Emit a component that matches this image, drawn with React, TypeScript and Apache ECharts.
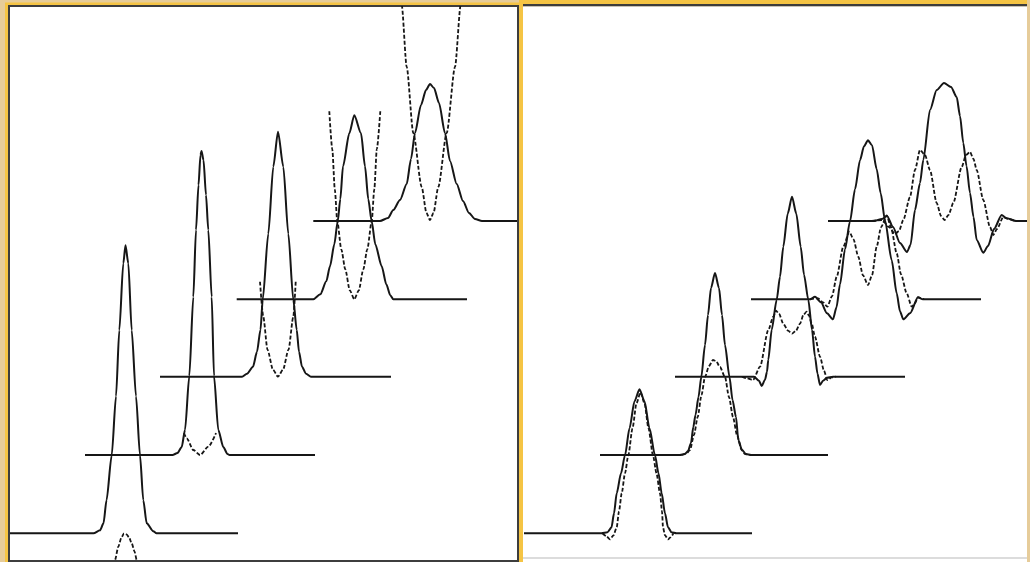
import React, { useEffect, useRef } from "react";
import * as echarts from "echarts";

type Pt = [number, number];

// ---------- Left panel: five stacked packets (solid) + their approximations (dashed)
const leftCenters = [115.5, 191.5, 268, 344.3, 420];
const leftBaselines = [26.7, 105, 183.3, 260.7, 339];
const leftStarts = [0, 75, 150, 226.7, 303.3];
const leftEnds = [228, 305, 381, 457, 507];

const leftSolid0: Pt[] = [[-32, 0], [-25.5, 3], [-22, 10], [-19, 33], [-13.8, 78], [-9.5, 137], [-6.2, 203], [-2.2, 270], [0, 288], [2.8, 270], [6.2, 203], [10.5, 137], [14.5, 78], [17.8, 33], [21.2, 10], [27.8, 2], [31, 0]];
const leftSolid1: Pt[] = [[-29, 0], [-24, 2], [-19.8, 8], [-16.5, 25], [-12.2, 79], [-8.2, 158], [-5.5, 225], [-3, 270], [-1, 300], [0, 304], [2, 295], [4.5, 260], [6.8, 225], [10.2, 158], [12.5, 79], [16.8, 25], [21.8, 8], [26, 1], [28, 0]];
const leftSolid2: Pt[] = [[-36, 0], [-31, 3], [-25, 10], [-21, 25], [-17.5, 47], [-15.3, 77], [-9.7, 143], [-4.7, 210], [0, 245], [5.3, 210], [10.3, 143], [15.3, 77], [18.7, 47], [21, 25], [24, 10], [28, 3], [33, 0]];
const leftSolid3: Pt[] = [[-41, 0], [-34, 5], [-28, 18], [-24.3, 33], [-20, 55], [-16.6, 78], [-14, 100], [-11.3, 133], [-5, 166], [0, 184], [6.7, 166], [10.7, 133], [14, 100], [17.4, 78], [21, 55], [27.4, 33], [32, 15], [36, 4], [39, 0]];
const leftSolid4: Pt[] = [[-50, 0], [-42, 3], [-36.7, 11], [-30, 21], [-23.3, 37], [-19, 62], [-15, 88], [-9, 116], [-4, 131], [0, 137], [4, 133], [9, 118], [15, 88], [20, 60], [26.7, 37], [33, 20], [39, 8], [45, 2], [52, 0]];

const leftDashed0: Pt[] = [[-12, -32], [-10.5, -26.7], [-7.2, -13.4], [-4, -4], [-1.5, 0], [1, -1], [3.5, -4], [6.2, -10], [9, -18], [11.2, -26.7], [12.5, -32]];
const leftDashed1: Pt[] = [[-17.5, 22], [-14.8, 16.7], [-8.2, 5], [-1.5, 0], [6.8, 8.3], [14.5, 22]];
const leftDashed2: Pt[] = [[-18, 95], [-14.7, 60], [-10.5, 27], [-5, 7], [0, 0], [5, 7], [10.5, 27], [15.3, 60], [17.7, 95]];
const leftDashed3: Pt[] = [[-25, 188], [-22, 150], [-19.5, 110], [-17, 78], [-13, 50], [-9, 30], [-4.5, 9], [0, 0], [4.5, 9], [9, 30], [13, 50], [17.4, 78], [20, 110], [22.5, 150], [26, 188]];
const leftDashed4: Pt[] = [[-29.5, 222], [-28.3, 216], [-23.3, 154], [-16.7, 88], [-8.3, 34], [-3.5, 8], [0, 1], [3.5, 8], [8.3, 34], [16.7, 88], [25, 154], [30.7, 216], [31.5, 222]];

// ---------- Right panel: five stacked packets with ringing (solid) + filtered versions (dashed)
const rightCenters = [116.5, 192, 269, 345, 421];
const rightBaselines = [26.7, 105, 183.3, 260.7, 339];
const rightStarts = [1, 77, 152, 228, 305];
const rightEnds = [229, 305, 382, 458, 504];

const rightSolid0: Pt[] = [[-38, 0], [-32, 1], [-28, 6], [-25.5, 20], [-22.8, 40], [-18.5, 60], [-14.5, 78], [-10, 105], [-5, 132], [0, 144], [5, 132], [10, 105], [15.5, 78], [19, 60], [22.2, 40], [25.5, 20], [28.5, 6], [32, 1], [37, 0]];
const rightSolid1: Pt[] = [[-35, 0], [-30, 1], [-27, 4], [-24, 12], [-21.7, 28], [-19.5, 40], [-16.5, 58], [-13.7, 78], [-10, 110], [-7, 140], [-4, 167], [0, 182], [4, 167], [7, 140], [10, 110], [14.5, 78], [17.5, 55], [21, 38], [23.3, 15], [27, 5], [31, 1], [36, 0]];
const rightSolid2: Pt[] = [[-46, 0], [-38, 0], [-33, -4], [-30.3, -9.3], [-27, -3], [-25, 5], [-23.7, 17], [-20.3, 47], [-15.3, 77], [-12, 100], [-8.7, 130], [-4.3, 163], [0, 180], [4.3, 163], [8.7, 130], [12, 102], [16.3, 77], [20, 47], [23, 20], [25.5, 3], [28, -8.3], [31, -4], [35, -1], [41, 0]];
const rightSolid3: Pt[] = [[-58, 0], [-53, 2.5], [-47, -3], [-41, -14], [-35, -20], [-31.5, -8], [-28, 15], [-23, 50], [-18, 78], [-13, 110], [-8, 139], [-4, 153], [0, 159], [4, 154], [8.7, 130], [12.7, 106], [17, 79], [23.7, 39], [28.7, 6], [32, -12], [35.3, -20], [42, -14], [50, 2], [55, 0]];
const rightSolid4: Pt[] = [[-70, 0], [-62, 2], [-57, 5], [-51, -6], [-44, -22], [-37, -31], [-33.5, -24], [-29, 11], [-24, 38], [-20.7, 61], [-14, 111], [-7.3, 131], [0, 138], [7, 134], [12.7, 124], [16, 105], [19.3, 78], [22.5, 55], [26, 28], [29.5, 4], [32.7, -19], [39.3, -31.7], [44, -25], [50, -8], [57.7, 6], [62, 3], [72, 0]];

const rightDashed0: Pt[] = [[-37, 0], [-33, -3], [-29.5, -6], [-26, -2], [-22.8, 6], [-20.5, 22], [-17.8, 40], [-14.5, 60], [-11.2, 78], [-7, 105], [-3, 130], [1, 141], [5, 130], [9, 105], [13.5, 78], [17, 60], [20.5, 40], [22.5, 22], [23.5, 6], [25.5, -2], [28.5, -6], [31, -4], [34, 0]];
const rightDashed1: Pt[] = [[-33, 0], [-28, 2], [-25, 5], [-21, 20], [-17.3, 38], [-13.5, 60], [-10, 78], [-6, 89], [-2, 95], [1, 94], [5, 88], [10, 78], [14, 58], [18, 38], [22, 20], [26.7, 5], [30, 1], [34, 0]];
const rightDashed2: Pt[] = [[-50, 0], [-45, -1.7], [-39, -3.3], [-32, 10], [-23.7, 46.7], [-18.7, 60], [-16, 66], [-13, 63], [-8.7, 53], [-4, 46], [0, 43], [4, 46], [8, 53], [11.5, 62], [14.7, 65], [17, 61], [19.7, 53], [23, 40], [28, 20], [32, 6], [35.3, -3.3], [39.7, -0.7], [44, 0]];
const rightDashed3: Pt[] = [[-58, 0], [-50, 1], [-45, -3], [-40.7, -7.4], [-36, 3], [-31.3, 22.6], [-24.7, 52.6], [-18.7, 67.6], [-14.5, 60], [-9.7, 42.6], [-5, 24], [0, 14.3], [4, 24], [8.7, 52.6], [13, 72], [18.7, 84], [23, 72], [28.7, 46], [33, 25], [38.7, 6], [43.7, -7.4], [47, -4], [50, 2], [56, 0]];
const rightDashed4: Pt[] = [[-72, 0], [-62, 1], [-55, -6], [-49, -13], [-45, -10], [-40.7, 1], [-34, 24], [-29, 51], [-24, 71], [-19, 66], [-14, 51], [-7.3, 18], [-3, 5], [0.5, 1], [4.5, 6], [9.3, 18], [17.7, 54], [22, 66], [26, 69], [29.5, 62], [32.7, 51], [39.3, 21], [46, -6], [49.3, -14], [53, -8], [59.3, 4], [64, 2], [72, 0]];

const leftSolid = [leftSolid0, leftSolid1, leftSolid2, leftSolid3, leftSolid4];
const leftDashed = [leftDashed0, leftDashed1, leftDashed2, leftDashed3, leftDashed4];
const rightSolid = [rightSolid0, rightSolid1, rightSolid2, rightSolid3, rightSolid4];
const rightDashed = [rightDashed0, rightDashed1, rightDashed2, rightDashed3, rightDashed4];

const INK = "#161616";

function place(center: number, base: number, profile: Pt[]): Pt[] {
  return profile.map(([dx, h]) => [center + dx, base + h] as Pt);
}

function buildSeries(): any[] {
  const out: any[] = [];
  const common = {
    type: "line",
    symbol: "none",
    showSymbol: false,
    silent: true,
    clip: true,
    smooth: 0.25,
    smoothMonotone: "x",
  };
  const solidStyle = { color: INK, width: 2 };
  const dashStyle = { color: INK, width: 1.8, type: [4, 2] };
  for (let k = 0; k < 5; k++) {
    const lb = leftBaselines[k];
    out.push({
      ...common,
      xAxisIndex: 0,
      yAxisIndex: 0,
      data: [[leftStarts[k], lb], ...place(leftCenters[k], lb, leftSolid[k]), [leftEnds[k], lb]],
      lineStyle: solidStyle,
    });
    out.push({
      ...common,
      xAxisIndex: 0,
      yAxisIndex: 0,
      data: place(leftCenters[k], lb, leftDashed[k]),
      lineStyle: dashStyle,
    });
    const rb = rightBaselines[k];
    out.push({
      ...common,
      xAxisIndex: 1,
      yAxisIndex: 1,
      data: [[rightStarts[k], rb], ...place(rightCenters[k], rb, rightSolid[k]), [rightEnds[k], rb]],
      lineStyle: solidStyle,
    });
    out.push({
      ...common,
      xAxisIndex: 1,
      yAxisIndex: 1,
      data: place(rightCenters[k], rb, rightDashed[k]),
      lineStyle: dashStyle,
    });
  }
  return out;
}

export default function App() {
  const ref = useRef<HTMLDivElement>(null);
  useEffect(() => {
    if (!ref.current) return;
    const chart = echarts.init(ref.current, undefined, { renderer: "svg" });
    const tan = "#E6CC9A";
    const gold = "#F5C444";
    const frame = "#3d3d3d";
    chart.setOption({
      animation: false,
      graphic: [
        { type: "rect", silent: true, z: -10, shape: { x: 0, y: 0, width: 1030, height: 562 }, style: { fill: tan } },
        { type: "rect", silent: true, z: -9, shape: { x: 5, y: 2.5, width: 518.5, height: 560 }, style: { fill: gold } },
        { type: "rect", silent: true, z: -9, shape: { x: 519, y: 0, width: 508, height: 4 }, style: { fill: gold } },
        { type: "rect", silent: true, z: -8, shape: { x: 8, y: 5, width: 511, height: 557 }, style: { fill: frame } },
        { type: "rect", silent: true, z: -7, shape: { x: 10, y: 7, width: 507, height: 553 }, style: { fill: "#ffffff" } },
        { type: "rect", silent: true, z: -8, shape: { x: 523, y: 4, width: 504, height: 2.5 }, style: { fill: frame } },
        { type: "rect", silent: true, z: -7, shape: { x: 523, y: 6.5, width: 504, height: 555.5 }, style: { fill: "#ffffff" } },
        { type: "rect", silent: true, z: -6, shape: { x: 523, y: 557, width: 504, height: 2 }, style: { fill: "#dcdcdc" } },
      ],
      grid: [
        { left: 10, top: 7, width: 507, height: 553 },
        { left: 523, top: 7, width: 504, height: 553 },
      ],
      xAxis: [
        { type: "value", gridIndex: 0, min: 0, max: 507, show: false },
        { type: "value", gridIndex: 1, min: 0, max: 504, show: false },
      ],
      yAxis: [
        { type: "value", gridIndex: 0, min: 0, max: 553, show: false },
        { type: "value", gridIndex: 1, min: 0, max: 553, show: false },
      ],
      series: buildSeries(),
    });
    return () => chart.dispose();
  }, []);
  return (
    <div
      ref={ref}
      style={{ position: "absolute", left: 0, top: 0, width: 1030, height: 562 }}
    />
  );
}
